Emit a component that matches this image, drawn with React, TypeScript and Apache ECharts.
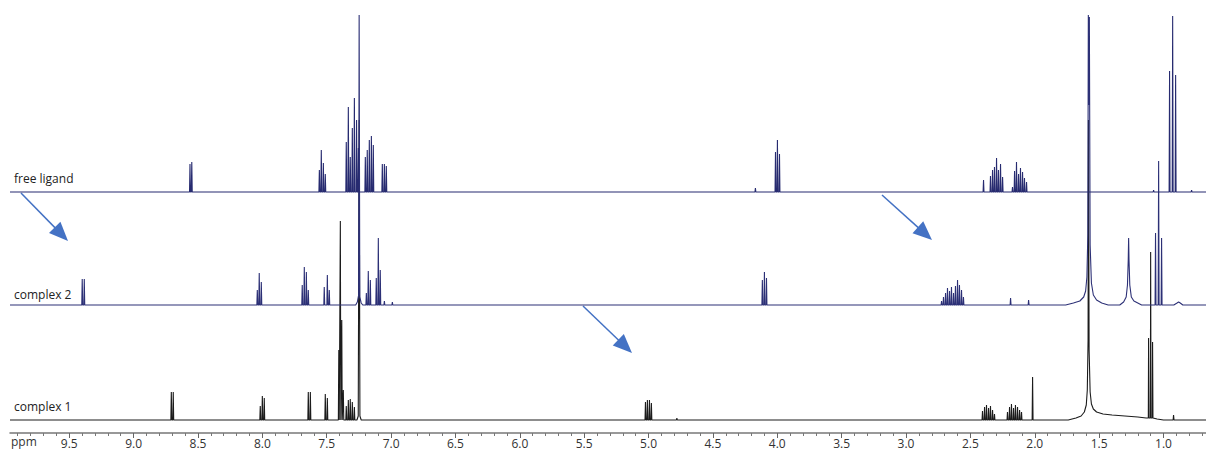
import React, { useEffect, useRef } from "react";
import * as echarts from "echarts";

type Pt = [number, number];

// x-axis range (ppm), reversed
const PPM_MAX = 9.96;
const PPM_MIN = 0.67;
const majorTicks = [9.5, 9.0, 8.5, 8.0, 7.5, 7.0, 6.5, 6.0, 5.5, 5.0, 4.5, 4.0, 3.5, 3.0, 2.5, 2.0, 1.5, 1.0];
const minorTicks = [
  9.9, 9.8, 9.7, 9.6, 9.4, 9.3, 9.2, 9.1, 8.9, 8.8, 8.7, 8.6, 8.4, 8.3, 8.2, 8.1, 7.9, 7.8, 7.7, 7.6,
  7.4, 7.3, 7.2, 7.1, 6.9, 6.8, 6.7, 6.6, 6.4, 6.3, 6.2, 6.1, 5.9, 5.8, 5.7, 5.6, 5.4, 5.3, 5.2, 5.1,
  4.9, 4.8, 4.7, 4.6, 4.4, 4.3, 4.2, 4.1, 3.9, 3.8, 3.7, 3.6, 3.4, 3.3, 3.2, 3.1, 2.9, 2.8, 2.7, 2.6,
  2.4, 2.3, 2.2, 2.1, 1.9, 1.8, 1.7, 1.6, 1.4, 1.3, 1.2, 1.1, 0.9, 0.8, 0.7,
];

const traceNames = ["free ligand", "complex 2", "complex 1"];

// ---- free ligand: stick lines [ppm, intensity]
const freeLigandLines: Pt[] = [
  [8.562, 28], [8.548, 30],
  [7.557, 22], [7.542, 42], [7.526, 29], [7.511, 18],
  [7.348, 50], [7.332, 85], [7.317, 35], [7.301, 64], [7.285, 94], [7.268, 72], [7.254, 44],
  [7.200, 35], [7.185, 42], [7.169, 52], [7.153, 56], [7.138, 47],
  [7.068, 28], [7.052, 28], [7.037, 26],
  [4.170, 4],
  [4.014, 40], [3.999, 52], [3.983, 38],
  [2.398, 12],
  [2.344, 16], [2.328, 22], [2.313, 25], [2.297, 34], [2.282, 22], [2.266, 28], [2.250, 15],
  [2.173, 5], [2.157, 21], [2.142, 30], [2.126, 18], [2.111, 24], [2.095, 20], [2.080, 14], [2.064, 10],
  [1.077, 2],
  [0.953, 121], [0.929, 176], [0.906, 117],
  [0.782, 2],
];
const freeLigandProfiles: Pt[][] = [];

// ---- complex 2
const complex2Lines: Pt[] = [
  [9.399, 26], [9.383, 26],
  [8.039, 15], [8.024, 32], [8.008, 23],
  [7.690, 20], [7.674, 38], [7.658, 33], [7.643, 15],
  [7.519, 18], [7.495, 30], [7.480, 15],
  [7.192, 12], [7.177, 34], [7.161, 25], [7.115, 27], [7.099, 67], [7.084, 35], [7.052, 4], [6.990, 3],
  [4.116, 25], [4.100, 33], [4.084, 27],
  [2.724, 4], [2.709, 8], [2.693, 12], [2.678, 17], [2.662, 14], [2.647, 18], [2.631, 12], [2.616, 19],
  [2.600, 25], [2.585, 20], [2.569, 15], [2.554, 8],
  [2.188, 7], [2.048, 5],
  [1.062, 72], [1.038, 144], [1.015, 67],
];
const complex2Profiles: Pt[][] = [
  [[7.275, 0], [7.262, 3], [7.252, 10], [7.248, 290], [7.243, 8], [7.232, 2], [7.22, 0]],
  [[1.76, 0], [1.70, 2], [1.65, 4], [1.62, 8], [1.605, 14], [1.595, 28], [1.588, 70], [1.584, 290],
   [1.580, 200], [1.576, 288], [1.570, 60], [1.560, 22], [1.545, 10], [1.52, 5], [1.48, 2], [1.43, 0]],
  [[1.34, 0], [1.31, 3], [1.29, 8], [1.28, 20], [1.274, 45], [1.271, 67], [1.268, 45], [1.262, 20],
   [1.25, 8], [1.23, 4], [1.20, 2], [1.17, 0]],
  [[0.92, 0], [0.895, 2], [0.883, 3], [0.87, 2], [0.85, 0]],
];

// ---- complex 1
const complex1Lines: Pt[] = [
  [8.707, 28], [8.692, 28],
  [8.016, 14], [8.000, 24], [7.985, 22],
  [7.643, 28], [7.627, 28],
  [7.511, 26], [7.495, 22],
  [7.406, 70], [7.394, 199], [7.383, 100], [7.371, 30],
  [7.348, 14], [7.332, 20], [7.317, 21], [7.301, 18], [7.285, 13],
  [5.024, 18], [5.009, 20], [4.993, 20], [4.978, 17],
  [4.780, 2],
  [2.406, 9], [2.390, 13], [2.375, 15], [2.359, 12], [2.344, 14], [2.328, 10], [2.313, 6],
  [2.212, 8], [2.196, 13], [2.181, 16], [2.165, 12], [2.150, 15], [2.134, 13], [2.118, 10], [2.103, 8],
  [2.017, 43],
  [0.922, 5],
];
const complex1Profiles: Pt[][] = [
  [[7.265, 0], [7.255, 4], [7.248, 300], [7.242, 4], [7.232, 0]],
  [[1.74, 0], [1.68, 2], [1.64, 4], [1.615, 8], [1.60, 15], [1.592, 30], [1.586, 80], [1.583, 300],
   [1.578, 70], [1.570, 28], [1.56, 16], [1.545, 11], [1.52, 8], [1.47, 6], [1.40, 5], [1.30, 4],
   [1.20, 3], [1.135, 2],
   [1.118, 2], [1.116, 82], [1.113, 2], [1.102, 2], [1.100, 168], [1.097, 2], [1.087, 2], [1.085, 78],
   [1.082, 2], [1.05, 1], [1.00, 0]],
];

// layout constants (pixels)
const W = 1206;
const H = 450;
const GRID_TOP = 15;
const GRID_BOTTOM = 17;
const Y_RANGE = H - GRID_TOP - GRID_BOTTOM; // 418
const baselineOffsets = [241, 128, 13];
const traceColors = ["#272b70", "#2c3076", "#1c1c1c"];
const HW = 0.0035;

function buildTrace(lines: Pt[], profiles: Pt[][], offset: number): Pt[] {
  const pts: Pt[] = [];
  lines.forEach(([p, h]) => {
    pts.push([p + HW, 0], [p, h], [p - HW, 0]);
  });
  profiles.forEach((prof) => prof.forEach((q) => pts.push([q[0], q[1]])));
  pts.push([PPM_MAX, 0], [PPM_MIN, 0]);
  pts.sort((a, b) => b[0] - a[0]);
  return pts.map(([p, h]) => [p, h + offset] as Pt);
}

const FONT = "'Open Sans', 'Noto Sans', sans-serif";

function arrow(x1: number, y1: number, x2: number, y2: number) {
  const dx = x2 - x1;
  const dy = y2 - y1;
  const len = Math.sqrt(dx * dx + dy * dy);
  const ux = dx / len;
  const uy = dy / len;
  const hl = 19;
  const hw = 8;
  const bx = x2 - ux * hl;
  const by = y2 - uy * hl;
  return [
    {
      type: "line",
      shape: { x1, y1, x2: bx + ux * 2, y2: by + uy * 2 },
      style: { stroke: "#4472c4", lineWidth: 1.5 },
    },
    {
      type: "polygon",
      shape: {
        points: [
          [x2, y2],
          [bx - uy * hw, by + ux * hw],
          [bx + uy * hw, by - ux * hw],
        ],
      },
      style: { fill: "#4472c4" },
    },
  ];
}

export default function App() {
  const ref = useRef<HTMLDivElement>(null);
  useEffect(() => {
    if (!ref.current) return;
    const chart = echarts.init(ref.current, null, { renderer: "svg" });
    const traces = [
      buildTrace(freeLigandLines, freeLigandProfiles, baselineOffsets[0]),
      buildTrace(complex2Lines, complex2Profiles, baselineOffsets[1]),
      buildTrace(complex1Lines, complex1Profiles, baselineOffsets[2]),
    ];
    const labelYs = [180, 296, 408];
    chart.setOption({
      animation: false,
      backgroundColor: "#ffffff",
      grid: { left: 10, right: 0, top: GRID_TOP, bottom: GRID_BOTTOM, containLabel: false },
      xAxis: [
        {
          type: "value",
          min: PPM_MIN,
          max: PPM_MAX,
          inverse: true,
          position: "bottom",
          axisLine: { show: true, lineStyle: { color: "#777", width: 1.5 } },
          axisTick: { show: true, customValues: majorTicks, length: 5, lineStyle: { color: "#666" } },
          axisLabel: {
            show: true,
            customValues: majorTicks,
            formatter: (v: number) => v.toFixed(1),
            fontSize: 12,
            color: "#333",
            fontFamily: FONT,
            margin: 4,
          },
          splitLine: { show: false },
        },
        {
          type: "value",
          min: PPM_MIN,
          max: PPM_MAX,
          inverse: true,
          position: "bottom",
          axisLine: { show: false },
          axisTick: { show: true, customValues: minorTicks, length: 3, lineStyle: { color: "#777" } },
          axisLabel: { show: false },
          splitLine: { show: false },
        },
      ],
      yAxis: { type: "value", min: 0, max: Y_RANGE, show: false },
      series: traces.map((data, i) => ({
        type: "line",
        name: traceNames[i],
        data,
        xAxisIndex: 0,
        symbol: "none",
        showSymbol: false,
        lineStyle: { color: traceColors[i], width: 1.1 },
        z: 3 - i,
      })),
      graphic: [
        ...traceNames.map((t, i) => ({
          type: "text",
          left: 14,
          top: labelYs[i] - 8,
          style: { text: t, fontSize: 12, fill: "#222", fontFamily: FONT },
        })),
        {
          type: "text",
          left: 11,
          top: 435,
          style: { text: "ppm", fontSize: 12, fill: "#333", fontFamily: FONT },
        },
        ...arrow(21, 193, 68, 241),
        ...arrow(882, 195, 932, 240),
        ...arrow(583, 306, 632, 353),
      ],
    });
    return () => chart.dispose();
  }, []);
  return (
    <div
      ref={ref}
      style={{ position: "absolute", left: 0, top: 0, width: W, height: H }}
    />
  );
}
